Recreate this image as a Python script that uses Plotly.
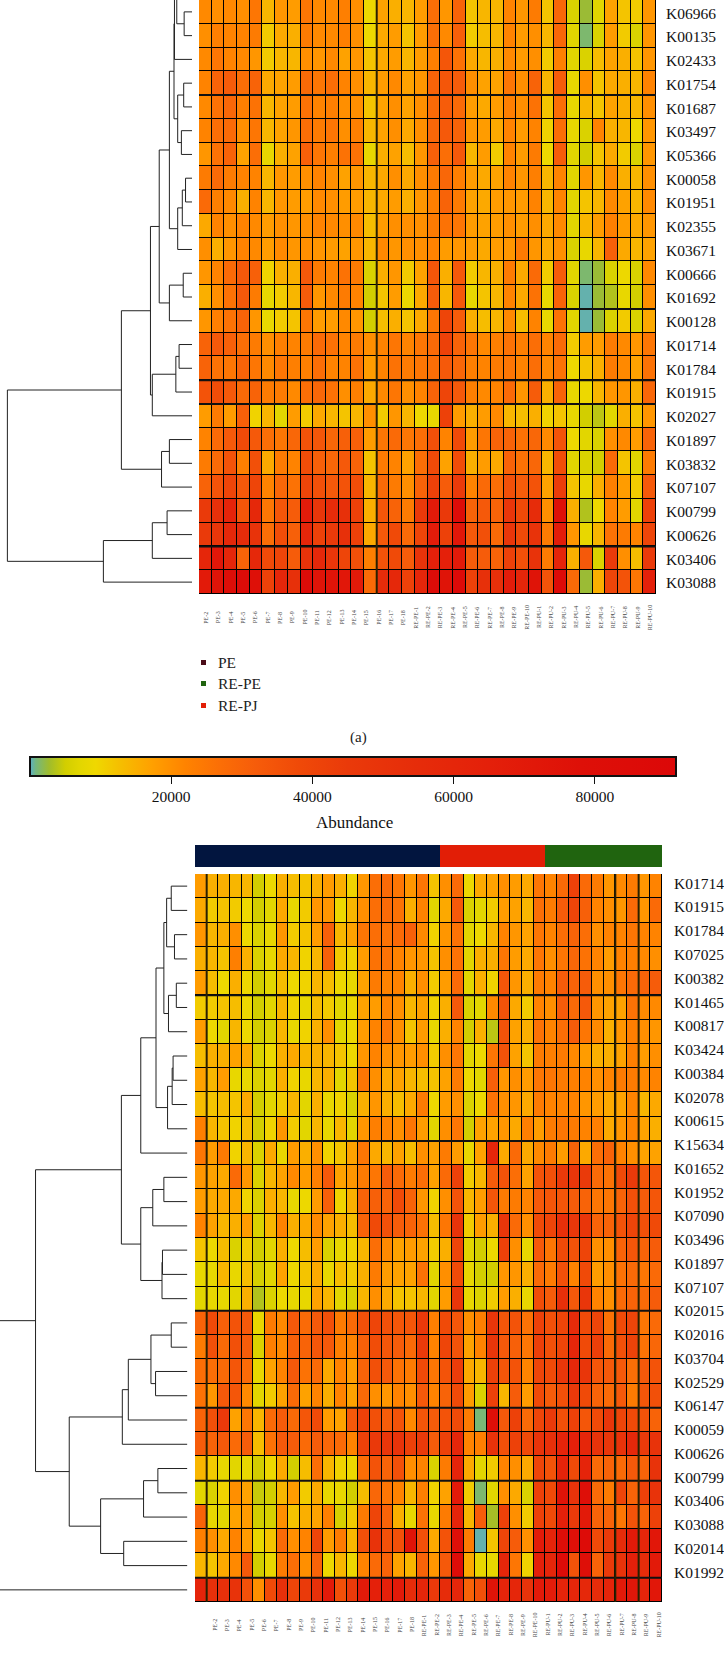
import numpy as np
import plotly.graph_objects as go

W, H = 724, 1667

# ---------- top panel (a) ----------
top_rows = ["K06966","K00135","K02433","K01754","K01687","K03497","K05366","K00058","K01951","K02355",
            "K03671","K00666","K01692","K00128","K01714","K01784","K01915","K02027","K01897","K03832",
            "K07107","K00799","K00626","K03406","K03088"]
top_cols = [f"PE-{i}" for i in range(2, 19)] + [f"RE-PE-{i}" for i in range(1, 11)] + [f"RE-PU-{i}" for i in range(1, 11)]

# abundance, in thousands
top_values = [
 [21,20,21,20,25,14,19,18,25,21,21,23,20,9,17,15,14,18,27,19,30,12,14,14,22,19,24,12,29,6,2.5,7,17,12,11,19],
 [20,23,22,22,24,11,16,15,24,21,21,23,20,9,16,18,12,18,27,21,31,11,13,14,22,18,20,14,29,7,1.2,6,18,11,6,19],
 [21,25,22,21,19,11,14,14,20,19,21,17,19,12,16,18,14,18,23,34,26,16,14,15,21,18,20,11,23,7,6,13,17,15,12,19],
 [22,30,32,27,30,16,17,18,28,25,27,22,20,14,18,21,17,19,30,34,32,20,17,17,25,20,30,14,32,8,20,12,16,15,14,22],
 [21,26,29,23,26,14,17,18,26,22,23,20,20,12,17,20,17,20,28,32,28,18,16,18,23,20,26,12,27,8,14,12,17,15,14,20],
 [22,27,28,20,25,14,17,19,27,24,25,20,23,14,17,20,16,20,29,33,30,19,18,16,22,18,22,10,27,8,6,22,15,14,9,19],
 [19,26,30,17,27,8,15,17,31,25,23,26,26,8,15,17,13,19,31,27,33,14,18,11,22,18,24,9,32,7,5,12,16,11,6,19],
 [24,28,24,22,22,14,19,18,20,22,20,17,19,14,16,20,16,20,24,29,23,18,16,17,22,19,23,14,22,7,19,14,21,15,14,20],
 [28,23,21,15,22,14,19,18,18,21,20,18,18,14,16,18,15,19,23,30,24,17,16,18,19,18,22,14,22,7,12,14,21,17,14,21],
 [16,22,20,22,21,18,20,19,20,22,21,20,21,13,18,20,20,20,24,26,25,18,17,18,20,18,20,16,21,7,14,18,23,18,16,19],
 [20,15,19,22,21,18,21,19,20,19,18,17,19,14,21,19,20,20,22,18,19,18,16,18,19,24,19,16,20,6,8,14,31,16,14,17],
 [19,22,28,33,31,10,15,15,33,24,22,26,24,6,15,19,11,17,34,15,33,11,14,15,24,16,28,11,32,7,1.2,2.5,6,9,6,21],
 [15,20,26,33,24,8,11,14,32,19,21,24,22,5,12,18,9,16,32,14,33,8,12,14,22,16,26,8,30,6,0.3,2.5,3.5,8,5,20],
 [19,23,26,30,19,8,11,12,25,18,18,21,19,5,13,15,12,16,25,40,32,15,13,14,21,13,22,8,26,7,0.3,2.5,6,11,6,16],
 [30,33,31,27,24,20,23,22,24,28,26,22,24,20,22,25,22,25,28,42,30,25,21,23,26,23,27,22,28,11,18,18,24,21,19,25],
 [30,26,25,30,25,21,25,23,23,27,22,22,26,18,22,26,24,25,27,33,29,23,22,24,25,22,27,21,26,9,12,15,24,21,17,26],
 [35,37,33,28,30,24,24,21,27,29,26,20,23,16,21,25,20,22,30,40,33,23,21,22,28,19,32,15,30,8,9,14,19,19,15,29],
 [18,24,18,31,10,14,7,18,11,16,14,12,14,20,11,19,14,9,8,42,18,15,18,21,14,13,15,10,12,8,5,4,7,15,12,19],
 [22,28,33,38,33,27,25,29,35,34,29,31,31,18,25,28,25,27,36,22,38,18,25,30,30,26,29,21,35,9,7,6,20,21,18,30],
 [24,28,35,23,36,16,24,22,37,31,29,33,30,12,24,22,17,27,38,17,37,15,18,16,30,26,29,14,37,7,6,5,28,12,7,24],
 [30,35,40,33,40,22,29,26,40,36,33,35,37,14,28,24,20,30,42,32,45,22,28,27,36,32,35,17,44,12,8,15,23,18,11,33],
 [45,52,62,34,58,25,34,32,68,48,55,52,42,15,34,30,24,46,70,46,85,30,33,30,48,38,55,20,78,15,3.5,9,22,18,7,42],
 [45,48,58,55,50,27,37,31,60,42,45,52,42,16,33,38,28,40,68,42,72,33,36,28,48,38,50,24,68,19,8,14,26,24,22,40],
 [60,72,60,30,58,38,40,32,50,58,48,40,36,23,35,38,32,50,65,65,70,32,32,30,42,36,50,24,62,15,33,6,45,20,13,45],
 [70,75,82,85,78,42,60,52,85,75,75,72,70,28,55,58,42,60,85,75,88,42,52,52,68,60,75,35,88,28,2.5,15,40,35,25,65],
]

# merge tree of the top rows: (distance, child, child); a bare number is a row index,
# -2.5 stands for the part of the tree that the picture cuts off
top_tree = (400,
  (153,
    (90,
      (71,
        (49,
          (39, (38, (33, -2.5, (17, 0, 1)), 2), (31, (18, 3, 4), (23, 5, 6))),
          (31, (21, (14, 7, 8), 9), 10)),
        (49, (19, 11, 12), 13)),
      (86, (35, (28, 14, 15), 16), 17)),
    (66, (49, 18, 19), 20)),
  (192, (86, (54, 21, 22), 23), 24))

# ---------- bottom panel ----------
bot_rows = ["K01714","K01915","K01784","K07025","K00382","K01465","K00817","K03424","K00384","K02078",
            "K00615","K15634","K01652","K01952","K07090","K03496","K01897","K07107","K02015","K02016",
            "K03704","K02529","K06147","K00059","K00626","K00799","K03406","K03088","K02014","K01992"]
bot_cols = top_cols

bot_values = [
 [18,15,15,14,14,5,9,15,13,12,15,18,15,10,19,27,28,25,19,25,12,20,28,9,16,17,20,18,16,25,22,28,42,28,24,19,21,24,19,22],
 [16,11,12,11,9,5,7,16,8,11,19,19,9,14,20,27,28,26,15,22,7,16,33,6,7,11,18,17,14,27,24,32,40,31,22,20,19,28,19,28],
 [19,14,15,20,9,6,8,19,11,12,18,31,14,17,25,27,26,28,31,21,10,19,26,7,9,14,22,19,17,25,22,27,30,27,20,22,22,25,22,22],
 [15,14,12,23,15,6,8,16,14,10,14,31,11,10,18,26,26,22,19,19,12,20,26,7,15,15,25,18,16,25,20,25,29,26,22,18,22,23,21,20],
 [18,13,9,15,9,5,7,13,9,10,14,13,9,8,17,24,22,22,15,20,11,18,28,7,15,10,34,19,15,24,22,32,30,32,20,20,25,28,30,32],
 [11,11,12,13,9,5,7,14,10,8,13,11,7,9,17,18,22,20,14,17,10,15,33,6,7,21,35,16,11,22,20,32,28,33,19,17,17,26,21,21],
 [18,9,7,14,9,5,6,14,8,10,15,20,7,9,18,22,25,20,12,18,8,15,22,5,15,4,35,17,15,26,22,27,32,25,21,15,19,23,20,19],
 [13,15,15,17,16,6,9,15,16,14,15,14,12,9,19,22,20,19,18,20,11,20,25,7,9,25,35,17,12,24,23,24,21,18,15,15,17,23,18,20],
 [17,14,18,8,8,6,7,15,10,8,14,15,7,12,25,20,16,17,14,13,12,17,24,9,7,31,19,20,18,25,25,24,23,22,20,22,24,24,21,22],
 [13,12,13,12,16,5,7,11,14,7,15,8,10,6,15,19,15,13,16,24,9,18,20,6,9,26,20,19,16,24,22,22,22,19,18,16,17,22,14,16],
 [23,14,12,10,13,5,10,19,11,7,14,8,14,7,19,23,22,20,25,18,7,20,25,5,17,17,19,16,23,18,24,25,24,22,23,16,19,22,17,15],
 [25,18,24,10,14,6,16,8,18,15,20,10,12,17,25,16,14,17,13,20,17,24,18,8,17,60,16,28,16,21,24,18,30,16,27,30,22,20,17,17],
 [19,17,16,28,19,6,14,17,21,18,23,33,17,19,24,25,32,28,24,27,17,28,42,11,14,32,35,27,17,35,36,45,48,45,28,26,38,45,34,34],
 [18,16,16,16,10,6,15,14,8,9,18,31,10,15,30,31,30,38,30,19,10,20,35,14,18,34,24,24,22,33,34,34,32,30,25,25,30,36,32,34],
 [22,17,14,15,18,6,14,22,15,16,21,17,15,13,30,38,36,32,30,26,13,25,50,11,18,15,48,28,20,38,40,52,47,48,30,30,35,40,36,38],
 [12,9,13,6,11,5,7,15,9,13,18,6,8,10,14,27,21,17,18,17,11,15,40,7,5,9,42,20,8,33,25,38,35,40,20,20,30,34,30,32],
 [8,8,14,8,13,5.5,7,17,9,12,16,8,13,11,15,24,18,17,17,26,7,20,38,8,5,5,19,19,15,28,24,36,22,38,18,20,26,28,25,28],
 [7,8,8,7,15,3.5,6,9,8,8,17,14,7,6,14,20,16,12,12,14,7,18,48,8,6,11,18,15,8,37,32,52,33,48,22,20,28,30,28,32],
 [30,38,31,35,33,8,24,21,33,28,33,36,24,28,36,40,36,34,34,46,23,38,34,20,23,48,34,35,26,42,36,40,56,38,40,26,38,40,25,28],
 [24,36,28,36,32,6,23,21,31,30,34,33,23,22,31,37,34,32,28,45,22,40,35,17,22,48,33,31,25,43,36,40,60,38,43,28,36,41,26,29],
 [27,27,28,34,28,8,17,22,33,26,28,16,22,18,30,36,33,26,24,38,25,35,44,16,14,42,34,35,22,40,38,47,58,48,34,33,33,27,33,35],
 [26,19,33,34,21,7,11,17,28,17,22,15,22,17,28,20,19,22,20,33,22,30,38,18,6,42,14,32,18,38,32,36,46,38,30,28,33,24,34,36],
 [30,36,46,17,25,14,28,32,28,34,38,18,17,33,42,36,32,35,21,34,32,35,38,24,1,80,33,42,28,40,45,36,42,34,38,48,40,38,35,30],
 [32,30,33,28,32,13,26,33,32,28,32,29,28,22,42,46,48,50,42,45,32,42,60,22,23,50,36,42,38,50,52,62,65,60,50,48,50,58,45,50],
 [14,11,8,7,8,5,9,16,5,13,27,14,10,9,27,35,30,36,20,22,6,24,62,16,7,11,22,20,16,40,35,62,38,62,28,30,28,33,30,50],
 [7,6,10,20,17,4.5,5,14,18,11,16,8,8,5,13,29,25,22,14,23,10,17,70,11,1.2,7,20,16,6,42,38,75,50,80,28,24,40,30,42,50],
 [30,8,7,17,18,5,5.5,20,12,15,17,23,5.5,11,24,40,30,15,8,26,8,24,62,14,32,3,42,20,11,42,38,65,45,70,30,30,25,35,30,42],
 [23,20,16,22,18,8,12,28,20,22,40,18,24,14,36,50,36,36,75,36,16,35,80,24,0.3,12,40,32,20,70,62,82,78,85,38,45,55,70,60,72],
 [14,12,16,21,33,5,8,24,27,20,30,9,14,9,22,28,30,17,14,30,19,33,85,16,8,8,60,25,10,65,60,85,35,80,30,45,50,65,55,70],
 [62,52,52,50,36,20,38,52,40,45,52,70,36,45,70,65,65,70,55,60,46,55,60,30,36,75,62,60,50,70,68,62,60,58,55,62,70,72,62,72],
]

bot_tree = (500,
  (329,
    (143,
      (101,
        (68,
          (51, (45, (35, 0, 1), (28, 2, 3)), (41, (24, 4, 5), 6)),
          (43, (33, (31, 7, 8), 9), 10)),
        11),
      (101, (75, (51, 12, 13), 14), (55, (54, 15, 16), 17))),
    (256,
      (141, (128, (79, (35, 18, 19), (69, 20, 21)), 22), 23),
      (188, (95, (64, 24, 25), 26), (138, 27, 28)))),
  29)

# cell borders that print heavier in the original (index of the first row/column after the border)
top_heavy_rows = [4, 13, 16, 17, 23]
top_heavy_cols = [14]
bot_heavy_rows = [5, 11, 18, 22, 25, 29]
bot_heavy_cols = [1, 36, 38]

group_names = ["PE", "RE-PJ", "RE-PE"]
group_counts = [21, 9, 10]
group_colors = ["#02153f", "#e21e06", "#20640f"]

legend_labels = ["PE", "RE-PE", "RE-PJ"]
legend_colors = ["#4a0c18", "#20640f", "#e21e06"]

scale_values = [0, 0.8, 2.7, 5, 7, 9.3, 12.5, 17.3, 22, 27, 32, 38, 45, 55, 65, 78, 91.5]
scale_colors = ["#5aaec8", "#74b780", "#a0bc2c", "#d2ce00", "#e2d600", "#efd800", "#f5c000", "#ffa000", "#ff8300",
                "#fb6e06", "#f65c0a", "#f04a08", "#ea3a0a", "#e62c0a", "#e4200a", "#de1008", "#dc0808"]
colorbar_ticks = [20000, 40000, 60000, 80000]

SERIF = "Liberation Serif"
TXT = "#111111"


def xdom(l, r):
    return [l / W, r / W]


def ydom(t, b):
    return [1 - b / H, 1 - t / H]


def segments(node):
    """walk a merge tree; returns centre row and the line pieces of each branch"""
    xs, ys = [], []

    def walk(n):
        if not isinstance(n, tuple):
            return 0.0, float(n)
        d, a, b = n
        da, ya = walk(a)
        db, yb = walk(b)
        xs.extend([da, d, d, db, None])
        ys.extend([ya, ya, yb, yb, None])
        return d, (ya + yb) / 2

    walk(node)
    return xs, ys


fig = go.Figure()

# geometry of the two panels (pixels of the picture)
TOP = dict(dl=0, dr=192, hl=199, hr=656, t=0, b=594, reach=416)
BOT = dict(dl=0, dr=187.4, hl=195, hr=662, t=874, b=1602, reach=406)


def panel(p, values, tree, dx, dy, hx, hy, heavy_rows, heavy_cols):
    xs, ys = segments(tree)
    fig.add_trace(go.Scatter(x=xs, y=ys, mode="lines", line=dict(color="#222222", width=1),
                             xaxis=dx, yaxis=dy, showlegend=False, hoverinfo="skip"))
    z = np.array(values, dtype=float) * 1000
    fig.add_trace(go.Heatmap(z=z, coloraxis="coloraxis", xgap=1, ygap=1, xaxis=hx, yaxis=hy,
                             hoverinfo="skip"))
    n_rows, n_cols = z.shape
    ax = dict(visible=False, fixedrange=True)
    fig.layout[dx.replace("x", "xaxis")] = dict(ax, domain=xdom(p["dl"], p["dr"]), range=[p["reach"], 0], anchor=dy)
    fig.layout[dy.replace("y", "yaxis")] = dict(ax, domain=ydom(p["t"], p["b"]), range=[n_rows - .5, -.5], anchor=dx)
    fig.layout[hx.replace("x", "xaxis")] = dict(ax, domain=xdom(p["hl"], p["hr"]), range=[-.5, n_cols - .5], anchor=hy)
    fig.layout[hy.replace("y", "yaxis")] = dict(ax, domain=ydom(p["t"], p["b"]), range=[n_rows - .5, -.5], anchor=hx)
    fig.add_shape(type="rect", xref=hx + " domain", yref=hy + " domain", x0=0, x1=1, y0=0, y1=1,
                  fillcolor="black", line_width=0, layer="below")
    for r in heavy_rows:
        fig.add_shape(type="line", xref=hx + " domain", yref=hy, x0=0, x1=1, y0=r - .5, y1=r - .5,
                      line=dict(color="#111111", width=2))
    for c in heavy_cols:
        fig.add_shape(type="line", xref=hx, yref=hy + " domain", x0=c - .5, x1=c - .5, y0=0, y1=1,
                      line=dict(color="#2a2000", width=2))


panel(TOP, top_values, top_tree, "x", "y", "x2", "y2", top_heavy_rows, top_heavy_cols)
panel(BOT, bot_values, bot_tree, "x3", "y3", "x4", "y4", bot_heavy_rows, bot_heavy_cols)

# group strip above the bottom heatmap
strip = []
for code, count in enumerate(group_counts):
    strip += [code] * count
fig.add_trace(go.Heatmap(z=[strip], x=list(range(len(strip))), zmin=0, zmax=2, showscale=False,
                         colorscale=[[0, group_colors[0]], [.33, group_colors[0]], [.33, group_colors[1]],
                                     [.66, group_colors[1]], [.66, group_colors[2]], [1, group_colors[2]]],
                         xaxis="x5", yaxis="y5", hoverinfo="skip"))
fig.layout.xaxis5 = dict(visible=False, domain=xdom(195, 662), range=[-.5, 39.5], anchor="y5")
fig.layout.yaxis5 = dict(visible=False, domain=ydom(845, 867), range=[-.5, .5], anchor="x5")

ann = []
# row labels; the labels in the original drift against the rows, hence the shrink factors
for i, name in enumerate(top_rows):
    ann.append(dict(text=name, x=664 / W, xref="paper", y=i * 0.999 + 0.05, yref="y2", xanchor="left",
                    yanchor="middle", showarrow=False, font=dict(family=SERIF, size=15.5, color=TXT)))
for i, name in enumerate(bot_rows):
    ann.append(dict(text=name, x=671.5 / W, xref="paper", y=i * 0.979 - 0.12, yref="y4", xanchor="left",
                    yanchor="middle", showarrow=False, font=dict(family=SERIF, size=15.5, color=TXT)))
# column labels
for i, name in enumerate(top_cols):
    ann.append(dict(text=name, x=i * 35 / 36, xref="x2", y=1 - 617.5 / H, yref="paper", textangle=-90,
                    xanchor="center", yanchor="middle", showarrow=False,
                    font=dict(family=SERIF, size=6, color="#444444")))
for i, name in enumerate(bot_cols):
    ann.append(dict(text=name, x=1.2 + i * 38 / 36, xref="x4", y=1 - 1625 / H, yref="paper", textangle=-90,
                    xanchor="center", yanchor="middle", showarrow=False,
                    font=dict(family=SERIF, size=6, color="#444444")))
# legend of panel (a)
shapes_y = [662, 683, 705]
for label, color, py in zip(legend_labels, legend_colors, shapes_y):
    ann.append(dict(text=label, x=216 / W, xref="paper", y=1 - py / H, yref="paper", xanchor="left",
                    yanchor="middle", showarrow=False, font=dict(family=SERIF, size=15.5, color="#222222")))
    fig.add_shape(type="rect", xref="paper", yref="paper", x0=201 / W, x1=206 / W,
                  y0=1 - (py + 3) / H, y1=1 - (py - 2) / H, fillcolor=color, line_width=0)
ann.append(dict(text="(a)", x=358 / W, xref="paper", y=1 - 737 / H, yref="paper", xanchor="center",
                yanchor="middle", showarrow=False, font=dict(family=SERIF, size=15, color="#222222")))
ann.append(dict(text="PE", x=226 / W, xref="paper", y=1 - 1671 / H, yref="paper", xanchor="left",
                yanchor="middle", showarrow=False, font=dict(family=SERIF, size=15.5, color="#222222")))
ann.append(dict(text="Abundance", x=354.5 / W, xref="paper", y=1 - 823 / H, yref="paper", xanchor="center",
                yanchor="middle", showarrow=False, font=dict(family=SERIF, size=17, color=TXT)))

fig.update_layout(
    width=W, height=H, autosize=False, margin=dict(l=0, r=0, t=0, b=0),
    paper_bgcolor="white", plot_bgcolor="white", showlegend=False, annotations=ann,
    coloraxis=dict(
        cmin=0, cmax=91500,
        colorscale=[[v / scale_values[-1], c] for v, c in zip(scale_values, scale_colors)],
        colorbar=dict(
            orientation="h", lenmode="pixels", len=646, thicknessmode="pixels", thickness=19,
            x=353 / W, xanchor="center", y=1 - 757 / H, yanchor="top", xpad=0, ypad=0,
            outlinewidth=2, outlinecolor="#111111", ticks="outside", ticklen=7, tickwidth=1, tickcolor="#111111",
            tickmode="array", tickvals=colorbar_ticks, ticktext=[str(v) for v in colorbar_ticks],
            tickfont=dict(family=SERIF, size=15.5, color=TXT),
        ),
    ),
)

fig.write_html("out.html", config={"displayModeBar": False},
               post_script="document.body.style.margin='0';")
